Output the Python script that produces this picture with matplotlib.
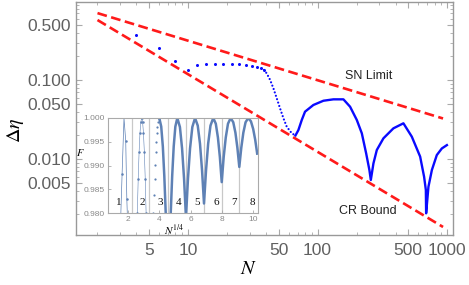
import matplotlib
matplotlib.use('Agg')
import matplotlib.pyplot as plt
import numpy as np
from matplotlib.ticker import LogLocator, NullFormatter

plt.rcParams['font.family'] = 'Liberation Sans'
plt.rcParams['mathtext.fontset'] = 'stix'

# ---- main plot data ----
sn_n = [2, 930]
sn_val = [0.707, 0.0328]
cr_n = [2, 930]
cr_val = [0.578, 0.00139]

# sparse points (small N)
n_sparse = [4, 6, 8, 10, 11.8, 13.8, 16.2, 18.6, 21.8, 24.8, 28.1, 31.0, 33.9, 36.4, 38.6]
d_sparse = [0.373, 0.256, 0.175, 0.135, 0.156, 0.160, 0.162, 0.162, 0.160, 0.159,
            0.156, 0.151, 0.146, 0.142, 0.135]

# dotted drop into the first dip
n_desc = [38.6, 40.5, 43.0, 45.6, 48.4, 51.3, 54.5, 57.8, 63.2, 67.5]
d_desc = [0.135, 0.122, 0.101, 0.079, 0.059, 0.0441, 0.033, 0.0258, 0.0213, 0.020]

# dense part (large N)
n_dense = [67.5, 71.1, 75.5, 80.0, 92.8, 110.9, 132.5, 158.3, 178.2, 200.8, 219.5,
           237.0, 251.2, 257.6, 269.9, 286.6, 322.3, 384.7, 459.8, 533.8, 619.0,
           664.1, 685.1, 688.5, 717.5, 762.6, 832.4, 910.4, 995.8]
d_dense = [0.020, 0.0234, 0.0314, 0.040, 0.0486, 0.0550, 0.0573, 0.0573, 0.0462,
           0.0314, 0.0213, 0.0119, 0.0073, 0.00546, 0.00887, 0.0131, 0.0184, 0.0246,
           0.0285, 0.0193, 0.0108, 0.0060, 0.00408, 0.00207, 0.00449, 0.00731,
           0.0113, 0.0137, 0.0151]

x_major = [5, 10, 50, 100, 500, 1000]
x_labels = ['5', '10', '50', '100', '500', '1000']
y_major = [0.005, 0.01, 0.05, 0.1, 0.5]
y_labels = ['0.005', '0.010', '0.050', '0.100', '0.500']

# ---- inset data ----
bounds = [2.29, 3.38, 4.59, 5.71, 6.86, 7.99, 9.11]
region_x = [1.45, 2.93, 4.10, 5.27, 6.43, 7.67, 8.79, 9.94]
region_lab = ['1', '2', '3', '4', '5', '6', '7', '8']

r1_x = [1.56, 1.64, 1.76, 1.87, 1.94, 1.97]
r1_f = [0.980, 0.9883, 1.000, 0.9952, 0.9830, 0.980]
r2_x = [2.61, 2.666, 2.722, 2.778, 2.834, 2.89, 2.946, 3.002, 3.058, 3.114, 3.17]
r2_f = [0.980, 0.9872, 0.9928, 0.9968, 0.9992, 1.0, 0.9992, 0.9968, 0.9928, 0.9872, 0.980]
r3_x = [3.63, 3.668, 3.706, 3.744, 3.782, 3.82, 3.858, 3.896, 3.934, 3.972, 4.01]
r3_f = [0.980, 0.9838, 0.9872, 0.9902, 0.9928, 0.995, 0.9968, 0.9982, 0.9992, 0.9998, 1.0]
segA_x = [4.01, 4.133, 4.236, 4.330, 4.42]
segA_f = [1.0, 0.9982, 0.9940, 0.9878, 0.980]
segB_x = [4.74, 4.832, 4.929, 5.034, 5.16, 5.325, 5.462, 5.589, 5.71, 5.838, 5.971,
          6.116, 6.29, 6.461, 6.604, 6.735, 6.86, 6.990, 7.125, 7.273, 7.45, 7.612,
          7.747, 7.871, 7.99, 8.115, 8.247, 8.389, 8.56, 8.725, 8.863, 8.989, 9.11,
          9.235, 9.367, 9.509, 9.68, 9.851, 9.994, 10.125, 10.25]
segB_f = [0.980, 0.9878, 0.9940, 0.9982, 1.0, 0.9981, 0.9936, 0.9872, 0.979, 0.9872,
          0.9936, 0.9981, 1.0, 0.9984, 0.9946, 0.9890, 0.982, 0.9890, 0.9946, 0.9984,
          1.0, 0.9988, 0.9959, 0.9918, 0.9865, 0.9918, 0.9959, 0.9988, 1.0, 0.9991,
          0.9969, 0.9937, 0.9897, 0.9937, 0.9969, 0.9991, 1.0, 0.9993, 0.9977,
          0.9954, 0.9925]

red = '#ff1a1a'
blue = '#0a0aff'
mblue = '#5e81b5'

fig = plt.figure(figsize=(4.69, 2.85), dpi=100)
ax = fig.add_axes([76 / 469, 1 - 235 / 285, 377 / 469, 233 / 285])
ax.set_xscale('log')
ax.set_yscale('log')
ax.set_xlim(1.365, 1110)
ax.set_ylim(0.0011, 0.977)

ax.plot(sn_n, sn_val, color=red, lw=1.9, ls=(0, (3.7, 1.7)))
ax.plot(cr_n, cr_val, color=red, lw=1.9, ls=(0, (3.7, 1.7)))

ax.plot(n_sparse, d_sparse, 'o', ms=2.2, color=blue, mec='none')
ax.plot(n_desc, d_desc, color=blue, lw=1.6, ls=(0, (0.01, 1.6)), dash_capstyle='round')
ax.plot(n_dense, d_dense, color=blue, lw=1.7)

ax.text(250, 0.113, 'SN Limit', fontsize=9, color='#222222', ha='center', va='center')
ax.text(245, 0.00223, 'CR Bound', fontsize=9, color='#222222', ha='center', va='center')

ax.set_xticks(x_major)
ax.set_xticklabels(x_labels)
ax.set_yticks(y_major)
ax.set_yticklabels(y_labels)
ax.xaxis.set_minor_locator(LogLocator(base=10, subs=np.arange(2, 10), numticks=20))
ax.yaxis.set_minor_locator(LogLocator(base=10, subs=np.arange(2, 10), numticks=20))
ax.xaxis.set_minor_formatter(NullFormatter())
ax.yaxis.set_minor_formatter(NullFormatter())
ax.tick_params(which='both', direction='in', top=True, right=True, color='#aaaaaa',
               labelcolor='#606060', labelsize=12.5)
ax.tick_params(which='major', length=4, width=0.8)
ax.tick_params(which='minor', length=2, width=0.6)
ax.tick_params(axis='x', pad=6)
ax.tick_params(axis='y', pad=3.5)
for s in ax.spines.values():
    s.set_color('#999999')
    s.set_linewidth(1.0)

fig.text(16 / 469, 1 - 130 / 285, r'$\Delta\eta$', rotation=90, ha='center', va='center',
         fontsize=14.5)
fig.text(249 / 469, 1 - 268 / 285, r'$N$', ha='center', va='center', fontsize=14.5)

# ---- inset ----
axin = fig.add_axes([108.3 / 469, 1 - 213 / 285, 149.2 / 469, 95 / 285])
axin.set_xlim(0.76, 10.27)
axin.set_ylim(0.98, 1.0)
for b in bounds:
    axin.axvline(b, color='#c8c8c8', lw=0.9, zorder=1)
for xr, lab in zip(region_x, region_lab):
    axin.text(xr, 0.9823, lab, fontsize=8, family='Liberation Serif', ha='center',
              va='center', color='#111111')

axin.plot(r1_x, r1_f, color=mblue, lw=0.5, marker='o', ms=1.8, mec='none',
          markevery=[1, 3, 4])
axin.plot(r2_x, r2_f, color=mblue, lw=0.4, marker='o', ms=1.8, mec='none')
axin.plot(r3_x, r3_f, 'o', color=mblue, ms=1.6, mec='none')
axin.plot(segA_x, segA_f, color=mblue, lw=1.8)
axin.plot(segB_x, segB_f, color=mblue, lw=1.8)

axin.set_xticks([2, 4, 6, 8, 10])
axin.set_yticks([0.98, 0.985, 0.99, 0.995, 1.0])
axin.set_yticklabels(['0.980', '0.985', '0.990', '0.995', '1.000'])
axin.tick_params(direction='in', length=2, width=0.6, labelsize=6, color='#aaaaaa',
                 labelcolor='#888888', pad=2.5)
for s in axin.spines.values():
    s.set_color('#aaaaaa')
    s.set_linewidth(0.8)

fig.text(80 / 469, 1 - 153 / 285, r'$F$', ha='center', va='center', fontsize=7.5)
fig.text(174 / 469, 1 - 230 / 285, r'$N^{1/4}$', ha='center', va='center', fontsize=8)

fig.savefig('out.png', dpi=100)
